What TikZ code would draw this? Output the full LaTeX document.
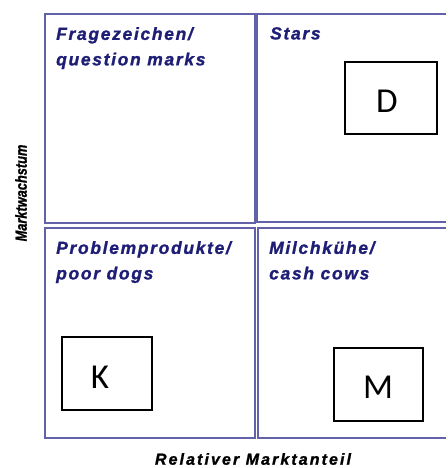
\documentclass[tikz,border=0pt]{standalone}
\usepackage{fontspec}
\setmainfont{Liberation Sans}
\newfontface\quadfont[LetterSpace=9.5, FakeBold=1.2]{Liberation Sans Bold Italic}
\newfontface\axisfont[LetterSpace=13, FakeBold=1.2]{Liberation Sans Bold Italic}
\newfontface\ylabelfont[FakeBold=1.2]{Liberation Sans Bold Italic}
\newfontfamily\prodfont{Carlito}
\definecolor{gridblue}{RGB}{98,98,168}
\definecolor{navytext}{RGB}{30,30,118}
\tikzset{
  quadline/.style={draw=gridblue, line width=2.6pt},
  quadlabel/.style={anchor=north west, inner sep=0pt, align=left, text=navytext,
    font=\quadfont\fontsize{17.5}{25.5}\selectfont},
  axislabel/.style={inner sep=0pt, text=black,
    font=\axisfont\fontsize{16}{18}\selectfont},
  prodbox/.style={draw=black, line width=1.4pt, fill=white, inner sep=0pt},
  prodletter/.style={inner sep=0pt, text=black, font=\prodfont\fontsize{35}{38}\selectfont}
}
\begin{document}
\begin{tikzpicture}[x=1pt,y=-1pt]
  \useasboundingbox (0,0) rectangle (447,468);

  % the four portfolio quadrants (right column runs off the edge)
  \draw[quadline] (45,14) rectangle (255,223);
  \draw[quadline] (446,14) -- (257,14) -- (257,222) -- (446,222);
  \draw[quadline] (45,228) rectangle (255,438);
  \draw[quadline] (446,228) -- (258,228) -- (258,438) -- (446,438);

  % quadrant titles
  \node[quadlabel] (qm) at (56,27) {Fragezeichen/\\question marks};
  \node[quadlabel] (st) at (270,27) {Stars};
  \node[quadlabel] (pd) at (56,241) {Problemprodukte/\\poor dogs};
  \node[quadlabel] (cc) at (269,241) {Milchkühe/\\cash cows};

  % axis captions
  \node[axislabel, rotate=90] (yax) at (21,193)
    {\scalebox{0.80}[1]{\ylabelfont\fontsize{16}{18}\selectfont Marktwachstum}};
  \node[axislabel] (xax) at (253,459) {Relativer Marktanteil};

  % products placed in the matrix
  \node[prodbox, minimum width=92pt, minimum height=72pt] (d) at (391,98) {};
  \node[prodletter] (dl) at ([shift={(-4,3)}]d.center) {D};
  \node[prodbox, minimum width=90pt, minimum height=73pt] (k) at (107,373.5) {};
  \node[prodletter] (kl) at ([shift={(-7,4)}]k.center) {K};
  \node[prodbox, minimum width=89pt, minimum height=73pt] (m) at (378.5,384.5) {};
  \node[prodletter] (ml) at ([shift={(-0.5,2.5)}]m.center) {M};
\end{tikzpicture}
\end{document}
